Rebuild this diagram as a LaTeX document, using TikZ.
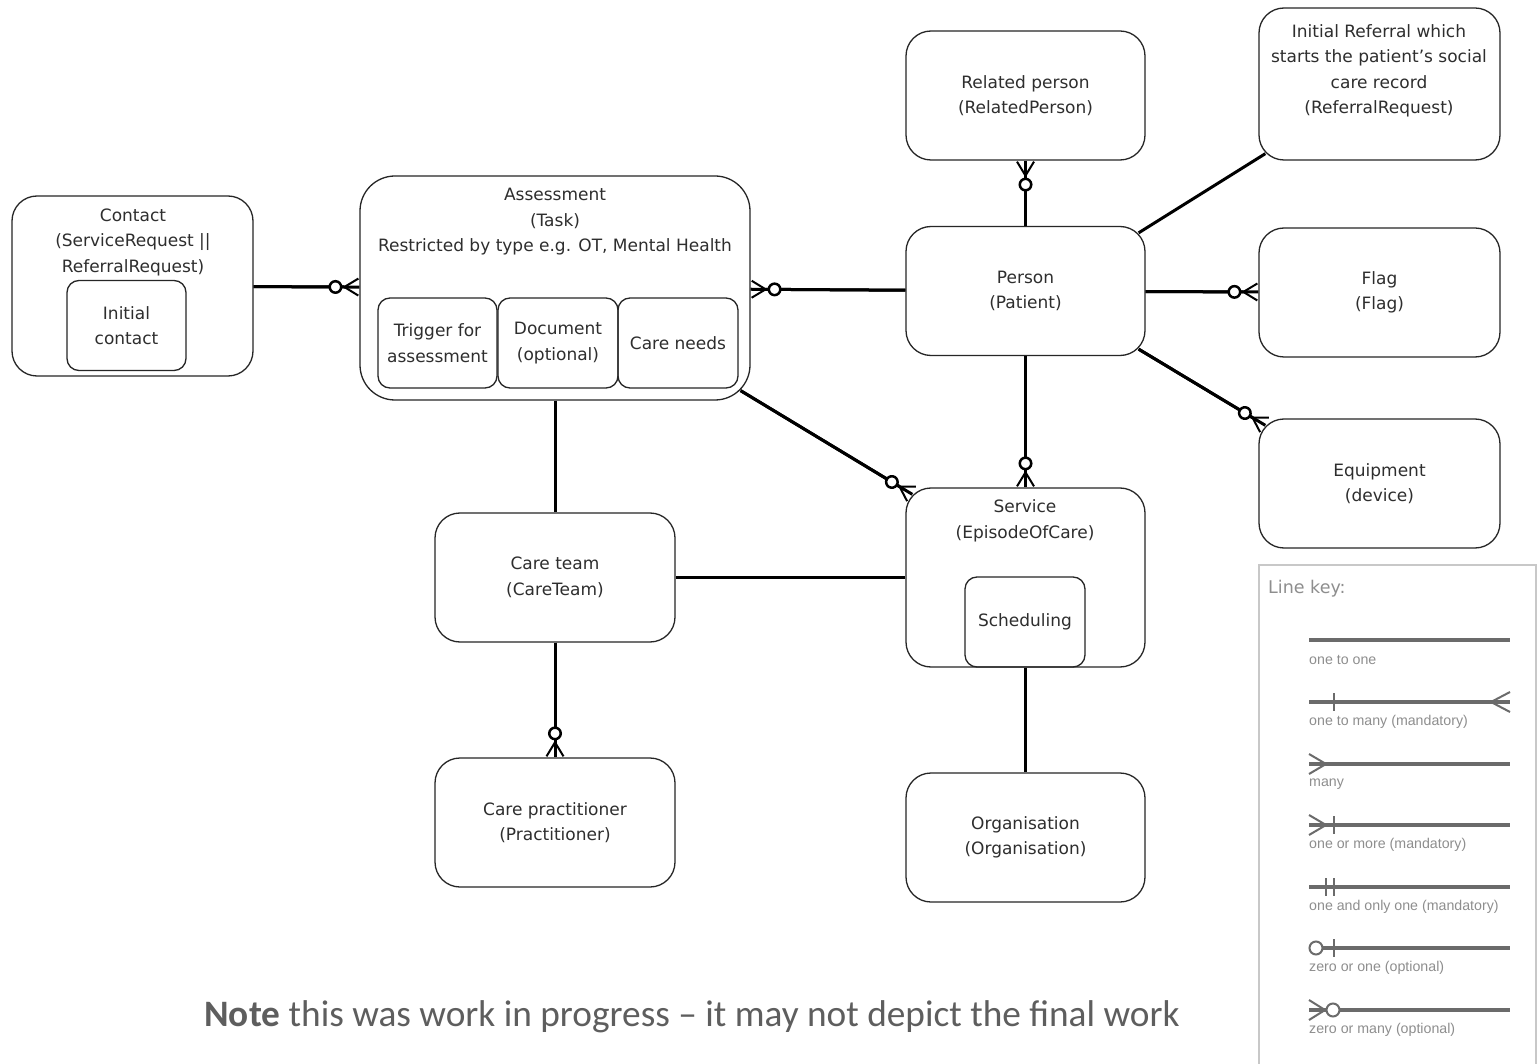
\documentclass[tikz,border=0pt]{standalone}
\usepackage{fontspec}
\setmainfont{DejaVu Sans}
\newfontfamily\notefont{Carlito}
\newfontfamily\keyfont{Liberation Sans}
\usetikzlibrary{arrows.meta}
\definecolor{grey_box}   {HTML} {262626}
\definecolor{grey_text}  {HTML} {2E2E2E}
\definecolor{grey_key}   {HTML} {6B6B6B}
\definecolor{grey_label} {HTML} {8E8E8E}
\definecolor{grey_frame} {HTML} {C8C8C8}
\definecolor{grey_note}  {HTML} {5E5E5E}

\tikzset{
  entity/.style={draw=grey_box,text=grey_text,line width=1.3pt,rounded corners=25pt,minimum width=239pt,minimum height=129pt,inner sep=0pt,align=center,font=\fontsize{17}{25.5}\selectfont},
  subbox/.style={entity,rounded corners=12pt,minimum width=119pt,minimum height=90pt},
  caption/.style={text=grey_text,align=center,inner sep=0pt,font=\fontsize{17}{25.5}\selectfont},
  link/.style={line width=3pt,black},
  zeromany/.style={link,postaction={draw,line width=3pt,-{Circle[fill=white,length=14pt,width=14pt,line width=2.5pt] Straight Barb[reversed,length=14pt,width=17pt,line width=2pt]}}},
  keyline/.style={line width=3.5pt,grey_key},
  keymark/.style={line width=2pt,grey_key},
  keytext/.style={anchor=west,inner sep=0pt,text=grey_label,font=\keyfont\fontsize{14.2}{16}\selectfont},
}

\begin{document}
\begin{tikzpicture}[x=1pt,y=-1pt]
\fill[white] (0,0) rectangle (1537,1064);
\useasboundingbox (0,0) rectangle (1537,1064);
% entities
\node[entity,minimum width=241pt,minimum height=180pt] (contact) at (132.5,286) {};
\node[caption] (contacttxt) at (133,242) {Contact\\(ServiceRequest ||\\ReferralRequest)};
\node[subbox] (initcontact) at (126.5,325.5) {Initial\\contact};
\node[entity,rounded corners=35pt,minimum width=390pt,minimum height=224pt] (assess) at (555,288) {};
\node[caption] (assesstxt) at (555,222) {Assessment\\(Task)\\Restricted by type e.g. OT, Mental Health};
\node[subbox] (trigger) at (437.5,343) {Trigger for\\assessment};
\node[subbox,minimum width=120pt] (document) at (558,343) {Document\\(optional)};
\node[subbox,minimum width=120pt] (careneeds) at (678,343) {Care needs};
\node[entity] (relperson) at (1025.5,95.5) {Related person\\(RelatedPerson)};
\node[entity,minimum width=241pt,minimum height=152pt] (referral) at (1379.5,84) {};
\node[caption] (referraltxt) at (1379,71) {Initial Referral which\\starts the patient’s social\\care record\\(ReferralRequest)};
\node[entity] (person) at (1025.5,291) {Person\\(Patient)};
\node[entity,minimum width=241pt] (flag) at (1379.5,292.5) {Flag\\(Flag)};
\node[entity,minimum width=241pt] (equip) at (1379.5,483.5) {Equipment\\(device)};
\node[entity,minimum height=179pt] (service) at (1025.5,577.5) {};
\node[caption] (servicetxt) at (1025,521) {Service\\(EpisodeOfCare)};
\node[subbox,minimum width=120pt] (sched) at (1025,622) {Scheduling};
\node[entity,minimum width=240pt] (careteam) at (555,577.5) {Care team\\(CareTeam)};
\node[entity,minimum width=240pt] (practitioner) at (555,822.5) {Care practitioner\\(Practitioner)};
\node[entity] (org) at (1025.5,837.5) {Organisation\\(Organisation)};
% relations
\draw[zeromany] (contact) -- (assess);
\draw[zeromany] (person) -- (assess);
\draw[zeromany] (person) -- (relperson);
\draw[link] ([xshift=-7pt,yshift=-7pt]person.north east) -- ([xshift=7pt,yshift=7pt]referral.south west);
\draw[zeromany] (person) -- (flag);
\draw[zeromany] ([xshift=-7pt,yshift=7pt]person.south east) -- ([xshift=7pt,yshift=-7pt]equip.north west);
\draw[zeromany] (person) -- (service);
\draw[zeromany] ([xshift=-10pt,yshift=10pt]assess.south east) -- ([xshift=7pt,yshift=-7pt]service.north west);
\draw[link] (assess) -- (careteam);
\draw[link] (careteam) -- (service);
\draw[zeromany] (careteam) -- (practitioner);
\draw[link] (service) -- (org);
% line key
\draw[draw=grey_frame,line width=1.2pt] (1259,565) rectangle (1536,1070);
\node[anchor=west,inner sep=0pt,text=grey_label,font=\fontsize{17.5}{19}\selectfont] (keytitle) at (1268,589) {Line key:};
\foreach \y/\lbl [count=\i] in {640/one to one,702/one to many (mandatory),764/many,825/one or more (mandatory),887/one and only one (mandatory),948/zero or one (optional),1010/zero or many (optional)}
{
  \draw[keyline] (1309,\y) -- (1510,\y);
  \node[keytext] (key\i) at (1309,\y+20) {\lbl};
}
\draw[keymark] (1334,693) -- (1334,711);
\draw[keymark] (1510,692) -- (1491,702) -- (1510,712);
\draw[keymark] (1309,754) -- (1326,764) -- (1309,774);
\draw[keymark] (1309,815) -- (1326,825) -- (1309,835);
\draw[keymark] (1334,816) -- (1334,834);
\draw[keymark] (1326,878) -- (1326,896);
\draw[keymark] (1334,878) -- (1334,896);
\draw[keymark,fill=white] (1316,948) circle (6.5);
\draw[keymark] (1334,939) -- (1334,957);
\draw[keymark] (1309,1000) -- (1325,1010) -- (1309,1020);
\draw[keymark,fill=white] (1333,1010) circle (6.5);
% note
\node[text=grey_note,inner sep=0pt,font=\notefont\fontsize{37.3}{40}\selectfont] (note) at (692,1017) {\textbf{Note} this was work in progress – it may not depict the final work};
\end{tikzpicture}
\end{document}
